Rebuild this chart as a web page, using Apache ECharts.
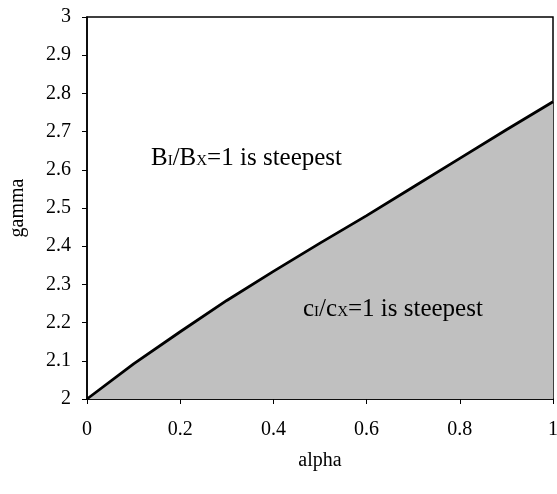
<!DOCTYPE html>
<html>
<head>
<meta charset="utf-8">
<script src="https://cdn.jsdelivr.net/npm/echarts@6/dist/echarts.min.js"></script>
<style>
html, body { margin: 0; padding: 0; background: #fff; }
#main { width: 557px; height: 494px; }
</style>
</head>
<body>
<div id="main"></div>
<script>
var alphaValues = [0, 0.1, 0.2, 0.3, 0.4, 0.5, 0.6, 0.7, 0.8, 0.9, 1];
var gammaValues = [2.0, 2.092, 2.176, 2.258, 2.334, 2.408, 2.48, 2.555, 2.63, 2.705, 2.778];
var xTicks = [0, 0.2, 0.4, 0.6, 0.8, 1];
var yTicks = [2, 2.1, 2.2, 2.3, 2.4, 2.5, 2.6, 2.7, 2.8, 2.9, 3];

var myChart = echarts.init(document.getElementById('main'));

var points = [];
for (var i = 0; i < alphaValues.length; i++) {
	points.push([alphaValues[i], gammaValues[i]]);
}

var serif = '"Liberation Serif", "DejaVu Serif", serif';

function pickTick(list) {
	return function (v) {
		for (var k = 0; k < list.length; k++) {
			if (Math.abs(v - list[k]) < 1e-6) return String(list[k]);
		}
		return '';
	};
}

// small capitals for the I / X indices
var smallCaps = { fontSize: 15, fontFamily: serif, fill: '#000', verticalAlign: 'bottom', padding: [0, 0, 2, 0] };

option = {
	animation: false,
	backgroundColor: '#fff',
	grid: {
		left: 87,
		right: 4,
		top: 17,
		bottom: 95,
		outerBoundsMode: 'none',
		containLabel: false,
		show: true,
		borderColor: '#000',
		borderWidth: 1.5,
		backgroundColor: 'transparent'
	},
	xAxis: {
		type: 'value',
		min: 0,
		max: 1,
		interval: 0.2,
		name: 'alpha',
		nameLocation: 'middle',
		nameGap: 52,
		nameTextStyle: { color: '#000', fontFamily: serif, fontSize: 20 },
		axisLine: { show: true, lineStyle: { color: '#000', width: 1.5 } },
		axisTick: { show: true, inside: false, length: 5, lineStyle: { color: '#000' } },
		axisLabel: {
			color: '#000', fontFamily: serif, fontSize: 20, margin: 21,
			showMinLabel: true, showMaxLabel: true,
			formatter: pickTick(xTicks)
		},
		splitLine: { show: false }
	},
	yAxis: {
		type: 'value',
		min: 2,
		max: 3,
		interval: 0.1,
		name: 'gamma',
		nameLocation: 'middle',
		nameGap: 59,
		nameTextStyle: { color: '#000', fontFamily: serif, fontSize: 20 },
		axisLine: { show: true, lineStyle: { color: '#000', width: 1.5 } },
		axisTick: { show: true, inside: false, length: 5, lineStyle: { color: '#000' } },
		axisLabel: {
			color: '#000', fontFamily: serif, fontSize: 20, margin: 16,
			showMinLabel: true, showMaxLabel: true,
			formatter: pickTick(yTicks)
		},
		splitLine: { show: false }
	},
	series: [{
		type: 'line',
		data: points,
		showSymbol: false,
		lineStyle: { color: '#000', width: 2.8 },
		areaStyle: { color: '#c0c0c0', opacity: 1, origin: 'start' },
		z: 2
	}],
	graphic: [{
		type: 'text',
		left: 151,
		top: 146,
		z: 10,
		style: {
			text: 'B{s|I}/B{s|X}=1 is steepest',
			fill: '#000',
			font: '25px ' + serif,
			rich: { s: smallCaps }
		}
	}, {
		type: 'text',
		left: 303,
		top: 297,
		z: 10,
		style: {
			text: 'c{s|I}/c{s|X}=1 is steepest',
			fill: '#000',
			font: '25px ' + serif,
			rich: { s: smallCaps }
		}
	}]
};

myChart.setOption(option);
window.onresize = myChart.resize;
</script>
</body>
</html>
